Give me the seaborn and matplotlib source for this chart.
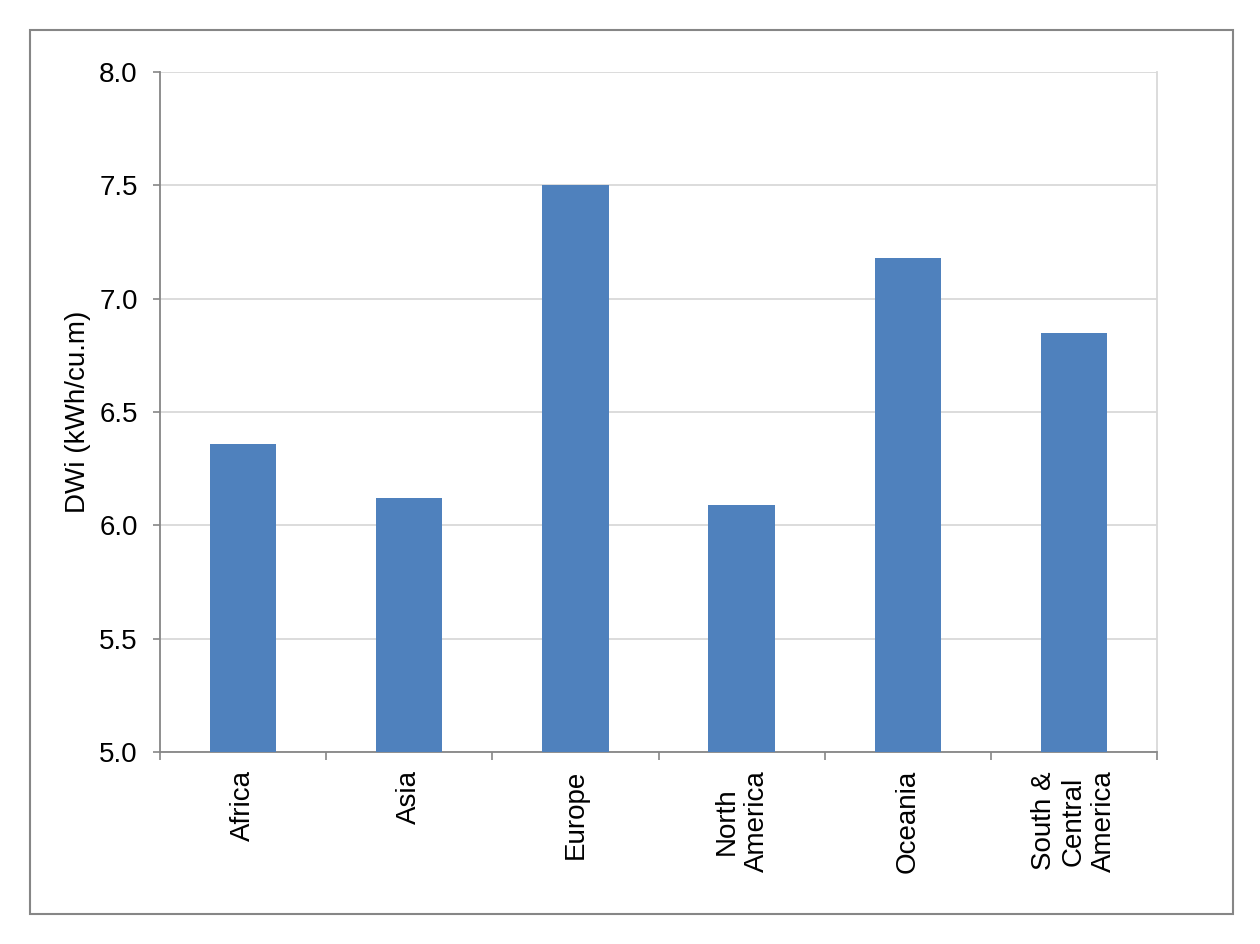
import matplotlib
matplotlib.use("Agg")
import matplotlib.pyplot as plt
import seaborn as sns
import pandas as pd
import numpy as np
from matplotlib.patches import Rectangle
from matplotlib.ticker import FixedLocator, FormatStrFormatter

regions = ["Africa", "Asia", "Europe", "North\nAmerica", "Oceania", "South &\nCentral\nAmerica"]
dwi_values = [6.36, 6.12, 7.50, 6.09, 7.18, 6.85]
y_ticks = [5.0, 5.5, 6.0, 6.5, 7.0, 7.5, 8.0]
y_label = "DWi (kWh/cu.m)"

sns.set_style("white")
plt.rcParams['font.family'] = ['Liberation Sans', 'DejaVu Sans']
plt.rcParams['text.color'] = 'black'
plt.rcParams['axes.labelcolor'] = 'black'
plt.rcParams['xtick.labelcolor'] = 'black'
plt.rcParams['ytick.labelcolor'] = 'black'

df = pd.DataFrame({"region": regions, "dwi": dwi_values})

fig = plt.figure(figsize=(12.6, 9.44), dpi=100)
ax = fig.add_axes([160/1260, 1-752/944, (1157-160)/1260, (752-72)/944])

sns.barplot(data=df, x="region", y="dwi", color="#4F81BD", saturation=1,
            width=0.4, ax=ax, zorder=3)
for p in ax.patches:
    p.set_edgecolor("none")

ax.set_ylim(5.0, 8.0)
ax.set_xlim(-0.5, len(regions) - 0.5)
ax.set_yticks(y_ticks)
ax.yaxis.set_major_formatter(FormatStrFormatter("%.1f"))
ax.yaxis.grid(True, color="#d9d9d9", linewidth=1.3, zorder=0)
ax.set_axisbelow(True)

# category boundary ticks (Excel style) and labels centred between them
ax.xaxis.set_major_locator(FixedLocator(np.arange(-0.5, len(regions), 1.0)))
ax.xaxis.set_minor_locator(FixedLocator(np.arange(len(regions))))
ax.set_xticklabels([""] * (len(regions) + 1))
ax.set_xticklabels(regions, minor=True, rotation=90, va="top", ha="center",
                   multialignment="center", fontsize=20, color="black")
ax.tick_params(axis="x", which="major", direction="out", length=6, width=1.2,
               color="#868686", bottom=True)
ax.tick_params(axis="x", which="minor", length=0, pad=13)
ax.tick_params(axis="y", direction="out", length=5, width=1.2, color="#868686",
               left=True, labelsize=20, pad=11, labelcolor="black")

ax.set_xlabel("")
ax.set_ylabel(y_label, fontsize=20, labelpad=6, color="black")

for side in ["left", "bottom"]:
    ax.spines[side].set_visible(True)
    ax.spines[side].set_color("#868686")
    ax.spines[side].set_linewidth(1.3)
ax.spines["right"].set_visible(True)
ax.spines["right"].set_color("#d9d9d9")
ax.spines["right"].set_linewidth(1.3)
ax.spines["top"].set_visible(False)

frame = Rectangle((30/1260, 30/944), (1233-30)/1260, (914-30)/944,
                  transform=fig.transFigure, fill=False, edgecolor="#868686",
                  linewidth=1.5)
fig.patches.append(frame)

fig.savefig("out.png", dpi=100, facecolor="white")
